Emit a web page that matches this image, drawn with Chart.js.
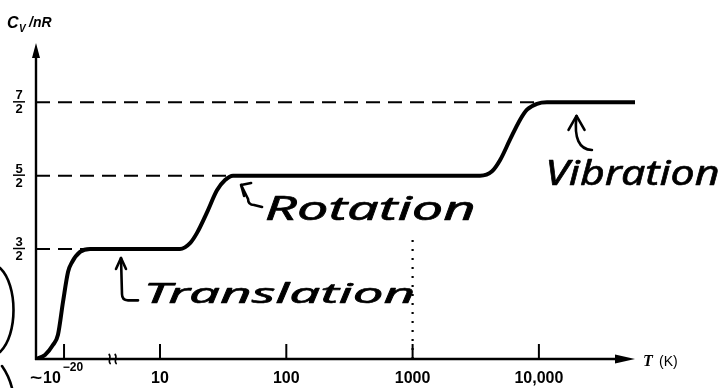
<!DOCTYPE html>
<html>
<head>
<meta charset="utf-8">
<script src="https://cdn.jsdelivr.net/npm/chart.js@4"></script>
<style>
  html, body { margin: 0; padding: 0; background: #fff; }
  #wrap { width: 723px; height: 388px; }
</style>
</head>
<body>
<div id="wrap"><canvas id="cvChart" width="723" height="388"></canvas></div>
<script>
// x is a log10(T) style position (with a break between ~1e-20 and 10)
const curveX = [0.018, 0.089, 0.152, 0.192, 0.232, 0.272, 0.303, 0.367, 0.446,
                1.158, 1.238, 1.293, 1.372, 1.451, 1.515, 1.578,
                3.534, 3.629, 3.692, 3.771, 3.850, 3.906, 3.985, 4.064, 4.761];
const curveY = [0, 0.055, 0.19, 0.33, 0.78, 1.19, 1.32, 1.46, 1.5,
                1.5, 1.58, 1.72, 2.0, 2.3, 2.44, 2.5,
                2.5, 2.56, 2.71, 2.99, 3.26, 3.40, 3.48, 3.5, 3.5];

// dashed guide levels and where the curve reaches them
const levels = [1.5, 2.5, 3.5];
const levelEnds = [0.446, 1.578, 4.064];
const levelNum = ['3', '5', '7'];
const levelDen = ['2', '2', '2'];

const tickPos = [0.24, 1, 2, 3, 4];
const tickLabels = ['10', '10', '100', '1000', '10,000'];

const xMin = 0.018, xMax = 4.761;
const yMin = 0, yMax = 4.35;

const dottedAt = 3;
const dottedTop = 1.65;

document.addEventListener('DOMContentLoaded', function() {
    const ctx = document.getElementById('cvChart').getContext('2d');

    const curve = curveX.map((x, i) => ({ x: x, y: curveY[i] }));

    const datasets = [{
        data: curve,
        borderColor: '#000',
        borderWidth: 4,
        pointRadius: 0,
        cubicInterpolationMode: 'monotone',
        fill: false
    }];

    levels.forEach((lv, i) => {
        datasets.push({
            data: [{ x: xMin, y: lv }, { x: levelEnds[i], y: lv }],
            borderColor: '#000',
            borderWidth: 2,
            borderDash: [14, 8],
            pointRadius: 0,
            tension: 0
        });
    });

    datasets.push({
        data: [{ x: dottedAt, y: 0 }, { x: dottedAt, y: dottedTop }],
        borderColor: '#000',
        borderWidth: 2.2,
        borderDash: [2, 7],
        pointRadius: 0,
        tension: 0
    });

    function handText(c, str, x1, x2, yc, size) {
        c.save();
        c.font = 'italic ' + size + 'px "Noto Sans"';
        const w = c.measureText(str).width;
        c.translate(x1, yc);
        c.scale((x2 - x1) / w, 1);
        c.textBaseline = 'middle';
        c.fillStyle = '#000';
        c.strokeStyle = '#000';
        c.lineWidth = 0.6;
        c.fillText(str, 0, 0);
        c.strokeText(str, 0, 0);
        c.restore();
    }

    const axesPlugin = {
        id: 'axesPlugin',
        afterDatasetsDraw(chart) {
            const c = chart.ctx;
            const xs = chart.scales.x, ys = chart.scales.y;
            const x0 = xs.getPixelForValue(xMin);
            const x1 = xs.getPixelForValue(xMax);
            const y0 = ys.getPixelForValue(0);
            const yTop = ys.getPixelForValue(yMax) + 3;

            c.save();
            c.strokeStyle = '#000';
            c.fillStyle = '#000';
            c.lineWidth = 2.4;
            c.lineCap = 'butt';

            // y axis with arrow
            c.beginPath();
            c.moveTo(x0, y0 + 1);
            c.lineTo(x0, yTop + 10);
            c.stroke();
            c.beginPath();
            c.moveTo(x0, yTop);
            c.lineTo(x0 - 4, yTop + 15);
            c.lineTo(x0 + 4, yTop + 15);
            c.closePath();
            c.fill();

            // x axis with arrow
            c.beginPath();
            c.moveTo(x0 - 1, y0);
            c.lineTo(x1 - 12, y0);
            c.stroke();
            c.beginPath();
            c.moveTo(x1, y0);
            c.lineTo(x1 - 20, y0 - 4.5);
            c.lineTo(x1 - 20, y0 + 4.5);
            c.closePath();
            c.fill();

            // ticks
            c.lineWidth = 2;
            tickPos.forEach(t => {
                const px = xs.getPixelForValue(t);
                c.beginPath();
                c.moveTo(px, y0);
                c.lineTo(px, y0 - 15);
                c.stroke();
            });

            // axis break
            const bx = xs.getPixelForValue(0.625);
            c.lineWidth = 1.6;
            [-3, 3].forEach(d => {
                c.beginPath();
                c.moveTo(bx + d - 1, y0 - 5);
                c.bezierCurveTo(bx + d + 3, y0 - 2, bx + d - 3, y0 + 2, bx + d + 1, y0 + 5);
                c.stroke();
            });

            // x tick labels
            c.textBaseline = 'alphabetic';
            c.textAlign = 'center';
            c.font = 'bold 16px "Liberation Sans"';
            tickLabels.forEach((lab, i) => {
                const px = xs.getPixelForValue(tickPos[i]);
                if (i === 0) {
                    c.textAlign = 'left';
                    // tilde, widened
                    c.save();
                    c.translate(px - 34, 383);
                    c.scale(1.3, 1);
                    c.fillText('~', 0, 0);
                    c.restore();
                    c.fillText(lab, px - 21, 383);
                    const w = c.measureText(lab).width;
                    c.font = 'bold 12px "Liberation Sans"';
                    c.fillText('\u221220', px - 21 + w + 2, 371);
                    c.font = 'bold 16px "Liberation Sans"';
                    c.textAlign = 'center';
                } else {
                    c.fillText(lab, px, 383);
                }
            });

            // y fraction labels
            c.font = 'bold 13px "Liberation Sans"';
            c.textAlign = 'center';
            levels.forEach((lv, i) => {
                const py = ys.getPixelForValue(lv);
                c.fillText(levelNum[i], 19, py - 3);
                c.fillText(levelDen[i], 19, py + 11);
                c.lineWidth = 1.5;
                c.beginPath();
                c.moveTo(13, py - 0.5);
                c.lineTo(25, py - 0.5);
                c.stroke();
            });

            // axis titles
            c.textAlign = 'left';
            c.font = 'italic bold 16px "Liberation Sans"';
            c.fillText('C', 7, 28);
            c.font = 'italic bold 10px "Liberation Sans"';
            c.fillText('V', 19, 32);
            c.font = 'italic bold 14px "Liberation Sans"';
            c.fillText('/nR', 29, 27);

            c.font = 'italic bold 16px "Liberation Serif"';
            c.fillText('T', x1 + 8, 366);
            c.font = '14px "Liberation Sans"';
            c.fillText('(K)', x1 + 24, 366);

            // handwritten notes
            const P = (u, v) => [xs.getPixelForValue(u), ys.getPixelForValue(v)];
            c.lineWidth = 2.6;
            c.lineCap = 'round';
            c.lineJoin = 'round';

            function hook(tip, corner, end) {
                const a = P(tip[0], tip[1]), b = P(corner[0], corner[1]), e = P(end[0], end[1]);
                c.beginPath();
                c.moveTo(a[0], a[1]);
                c.lineTo(b[0], b[1] - 6);
                c.quadraticCurveTo(b[0], b[1], b[0] + 6, b[1]);
                c.lineTo(e[0], e[1]);
                c.stroke();
            }
            function head(tip, dx, dy) {
                const a = P(tip[0], tip[1]);
                c.beginPath();
                c.moveTo(a[0] - dx, a[1] + dy);
                c.lineTo(a[0], a[1]);
                c.lineTo(a[0] + dx, a[1] + dy);
                c.stroke();
            }

            hook([0.691, 1.377], [0.699, 0.80], [0.826, 0.80]);
            head([0.691, 1.377], 5, 11);
            let p1 = P(0.87, 0.87), p2 = P(3.02, 0.87);
            handText(c, 'Translation', p1[0], p2[0], p1[1], 28);

            hook([1.642, 2.373], [1.697, 2.10], [1.808, 2.073]);
            const rt = P(1.642, 2.373);
            c.beginPath();
            c.moveTo(rt[0] + 10, rt[1] - 2);
            c.lineTo(rt[0], rt[1]);
            c.lineTo(rt[0] + 3, rt[1] + 11);
            c.stroke();
            p1 = P(1.83, 2.02); p2 = P(3.50, 2.02);
            handText(c, 'Rotation', p1[0], p2[0], p1[1], 32);

            const vt = P(4.298, 3.314), vb = P(4.34, 2.86), ve = P(4.42, 2.85);
            c.beginPath();
            c.moveTo(vt[0], vt[1]);
            c.quadraticCurveTo(vt[0] - 4, vb[1], ve[0], ve[1]);
            c.stroke();
            head([4.298, 3.314], 8, 14);
            p1 = P(4.05, 2.50); p2 = P(5.43, 2.50);
            handText(c, 'Vibration', p1[0], p2[0], p1[1], 34);

            // margin scribble
            c.beginPath();
            c.moveTo(0, 268);
            c.bezierCurveTo(18, 285, 18, 335, 0, 352);
            c.stroke();
            c.beginPath();
            c.moveTo(2, 366);
            c.quadraticCurveTo(9, 376, 12, 388);
            c.stroke();

            c.restore();
        }
    };

    new Chart(ctx, {
        type: 'line',
        data: { datasets: datasets },
        options: {
            responsive: false,
            animation: false,
            layout: { padding: { left: 36, top: 40, right: 88, bottom: 29 } },
            scales: {
                x: { type: 'linear', min: xMin, max: xMax, display: false },
                y: { type: 'linear', min: yMin, max: yMax, display: false }
            },
            plugins: {
                legend: { display: false },
                tooltip: { enabled: false }
            }
        },
        plugins: [axesPlugin]
    });
});
</script>
</body>
</html>
